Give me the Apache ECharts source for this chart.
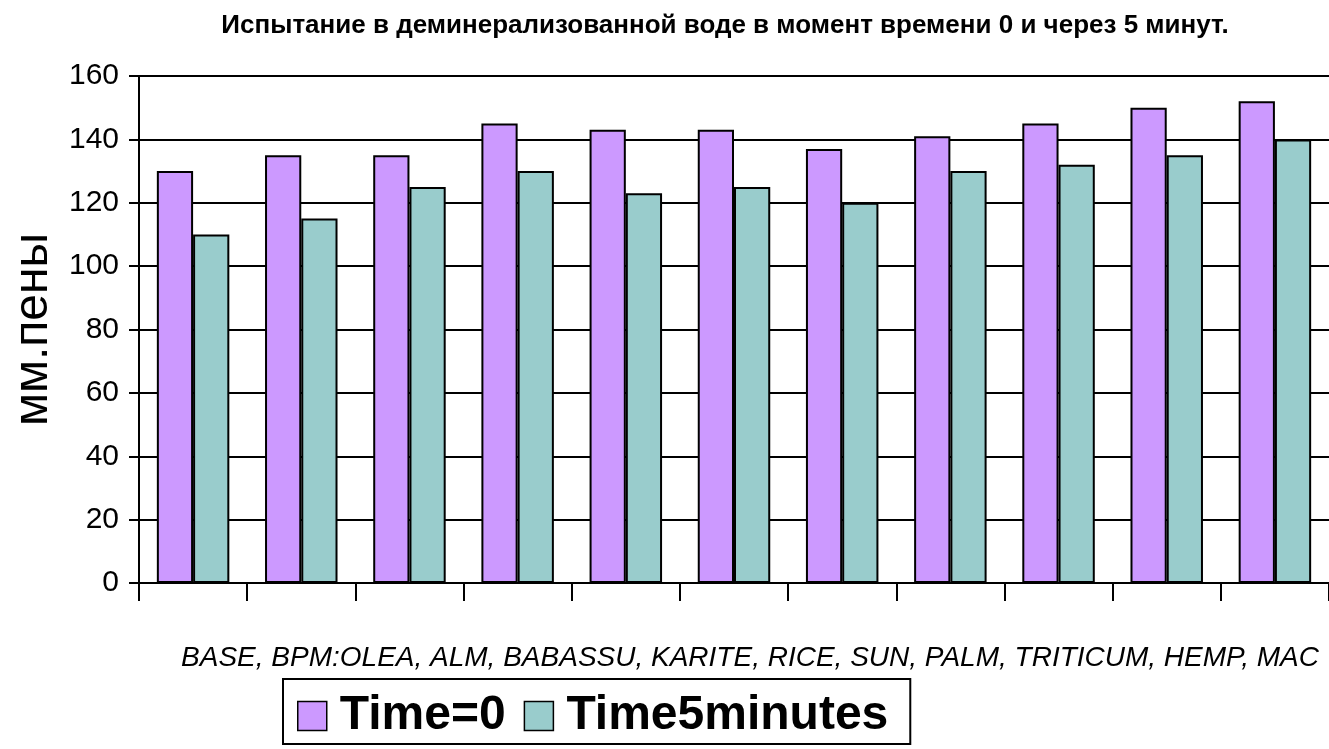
<!DOCTYPE html>
<html>
<head>
<meta charset="utf-8">
<script src="https://cdn.jsdelivr.net/npm/echarts@6/dist/echarts.min.js"></script>
<style>
  html, body { margin: 0; padding: 0; background: #fff; }
  #chart { width: 1329px; height: 749px; }
</style>
</head>
<body>
<div id="chart"></div>
<script>
// Foam height (mm) in demineralised water, at time 0 and after 5 minutes
const categories = ['BASE', 'BPM:OLEA', 'ALM', 'BABASSU', 'KARITE', 'RICE', 'SUN', 'PALM', 'TRITICUM', 'HEMP', 'MAC'];
const time0 = [130, 135, 135, 145, 143, 143, 137, 141, 145, 150, 152];
const time5 = [110, 115, 125, 130, 123, 125, 120, 130, 132, 135, 140];
const seriesNames = ['Time=0', 'Time5minutes'];
const titleText = 'Испытание в деминерализованной воде в момент времени 0 и через 5 минут.';
const yAxisName = 'мм.пены';

const FONT = '"Liberation Sans", Arial, sans-serif';
const black = '#000';

const chart = echarts.init(document.getElementById('chart'), null, { renderer: 'canvas' });

chart.setOption({
  backgroundColor: '#fff',
  animation: false,
  title: {
    text: titleText,
    left: 720,
    top: 8,
    textAlign: 'center',
    textStyle: { fontFamily: FONT, fontWeight: 'bold', fontSize: 26, color: black }
  },
  legend: {
    data: seriesNames,
    left: 283,
    top: 679,
    orient: 'horizontal',
    padding: [13, 22, 4, 14],
    itemGap: 18,
    itemWidth: 29,
    itemHeight: 29,
    icon: 'rect',
    borderColor: black,
    borderWidth: 2,
    backgroundColor: '#fff',
    textStyle: { fontFamily: FONT, fontWeight: 'bold', fontSize: 48, color: black, padding: [0, 0, 0, 8] },
    itemStyle: { borderColor: black, borderWidth: 1.5 }
  },
  grid: { left: 139, top: 76, width: 1201, height: 507 },
  xAxis: {
    type: 'category',
    data: categories,
    name: categories.join(', '),
    nameLocation: 'middle',
    nameGap: 61,
    nameTextStyle: {
      fontFamily: FONT, fontStyle: 'italic', fontSize: 28, color: black,
      padding: [0, 0, 0, 32]
    },
    axisLine: { lineStyle: { color: black, width: 2 } },
    axisTick: { show: true, alignWithLabel: false, length: 18, lineStyle: { color: black, width: 2 } },
    axisLabel: { show: false },
    splitLine: { show: false }
  },
  yAxis: {
    type: 'value',
    min: 0,
    max: 160,
    interval: 20,
    name: yAxisName,
    nameLocation: 'middle',
    nameRotate: 90,
    nameGap: 67,
    nameTextStyle: { fontFamily: FONT, fontSize: 48, color: black },
    axisLine: { show: true, lineStyle: { color: black, width: 2 } },
    axisTick: { show: true, length: 10, lineStyle: { color: black, width: 2 } },
    axisLabel: { fontFamily: FONT, fontSize: 30, color: black, margin: 20 },
    splitLine: { show: true, lineStyle: { color: black, width: 2 } }
  },
  series: [
    {
      name: seriesNames[0],
      type: 'bar',
      data: time0,
      barGap: '0%',
      barCategoryGap: '33%',
      itemStyle: { color: '#CC99FF', borderColor: black, borderWidth: 2 }
    },
    {
      name: seriesNames[1],
      type: 'bar',
      data: time5,
      itemStyle: { color: '#99CCCC', borderColor: black, borderWidth: 2 }
    }
  ]
});
</script>
</body>
</html>
